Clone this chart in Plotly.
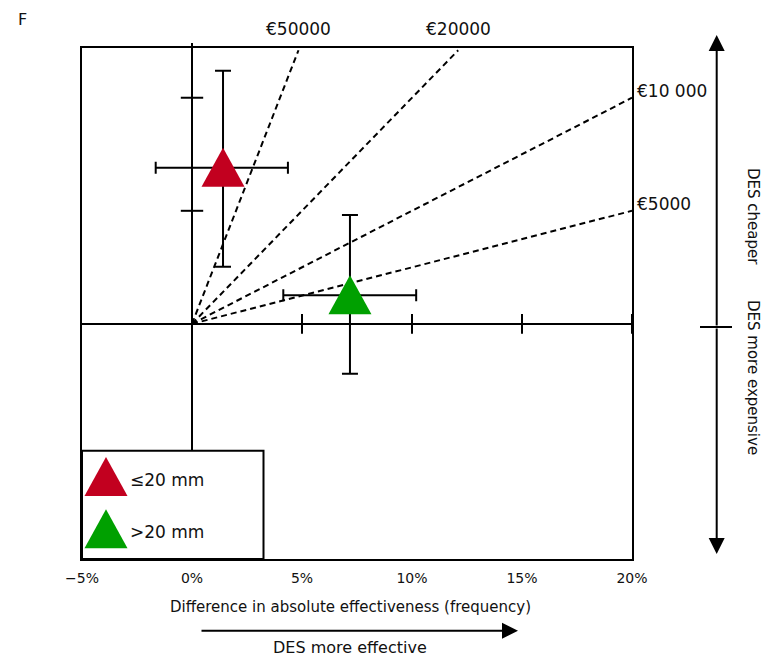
import plotly.graph_objects as go

# ---------------- data ----------------
groups = ['≤20 mm', '>20 mm']
group_colors = ['#C2001F', '#00A000']
eff = [1.41, 7.18]          # difference in effectiveness (%)
eff_lo = [-1.65, 4.15]
eff_hi = [4.36, 10.19]
cost = [1381, 252]          # difference in cost (EUR)
cost_lo = [506, -442]
cost_hi = [2238, 963]

wtp = [50000, 20000, 10000, 5000]
wtp_labels = ['€50000', '€20000', '€10 000', '€5000']

x_tick_vals = [-5, 0, 5, 10, 15, 20]
x_tick_text = ['−5%', '0%', '5%', '10%', '15%', '20%']
x_axis_ticks = [5, 10, 15, 20]
y_axis_ticks = [1000, 2000]

X_RANGE = [-5, 20]
Y_RANGE = [-2080, 2440]
Y_LINE_TOP = 2420

# ---------------- layout geometry ----------------
W, H = 763, 656
L, R, T, B = 82, 131, 48, 97
PW, PH = W - L - R, H - T - B


def px(xp):
    return (xp - L) / PW


def py(yp):
    return (H - B - yp) / PH


FONT = 'DejaVu Sans, Liberation Sans, Arial, sans-serif'
TXT = '#111111'

fig = go.Figure()

# error bars
for i, g in enumerate(groups):
    fig.add_trace(go.Scatter(
        x=[eff[i]], y=[cost[i]], mode='markers',
        marker=dict(size=2, color='black'),
        error_x=dict(type='data', symmetric=False,
                     array=[eff_hi[i] - eff[i]], arrayminus=[eff[i] - eff_lo[i]],
                     color='black', thickness=2, width=6),
        error_y=dict(type='data', symmetric=False,
                     array=[cost_hi[i] - cost[i]], arrayminus=[cost[i] - cost_lo[i]],
                     color='black', thickness=2, width=8),
        name=g, hoverinfo='skip'))

# willingness-to-pay lines
for lam, lab in zip(wtp, wtp_labels):
    x_end = min(X_RANGE[1], Y_LINE_TOP * 100 / lam)
    y_end = lam * x_end / 100
    fig.add_trace(go.Scatter(
        x=[0, x_end], y=[0, y_end], mode='lines',
        line=dict(color='black', width=2, dash='6px,4px'),
        hoverinfo='skip'))
    if x_end < X_RANGE[1]:
        fig.add_annotation(x=x_end, y=py(29), xref='x', yref='paper',
                           text=lab, showarrow=False, xanchor='center', yanchor='middle',
                           font=dict(family=FONT, size=17, color=TXT))
    else:
        fig.add_annotation(x=x_end, y=y_end, xref='x', yref='y',
                           text=lab, showarrow=False, xanchor='left', yanchor='middle',
                           xshift=3, yshift=7,
                           font=dict(family=FONT, size=17, color=TXT))

# axis tick marks on the zero lines
fig.add_trace(go.Scatter(x=x_axis_ticks, y=[0] * len(x_axis_ticks), mode='markers',
                         marker=dict(symbol='line-ns', size=14,
                                     line=dict(width=2, color='black')),
                         hoverinfo='skip'))
fig.add_trace(go.Scatter(x=[0] * len(y_axis_ticks), y=y_axis_ticks, mode='markers',
                         marker=dict(symbol='line-ew', size=16,
                                     line=dict(width=2, color='black')),
                         hoverinfo='skip'))

shapes = []
TRI = 'M -21.5,-19 L 21.5,-19 L 0,20 Z'
# data triangles
for i in range(len(groups)):
    shapes.append(dict(type='path', xref='x', yref='y',
                       xsizemode='pixel', ysizemode='pixel',
                       xanchor=eff[i], yanchor=cost[i], path=TRI,
                       fillcolor=group_colors[i], line=dict(width=0), layer='above'))

# vertical zero line slightly above the frame
shapes.append(dict(type='line', xref='x', yref='paper', x0=0, x1=0,
                   y0=1, y1=py(43), line=dict(color='black', width=2)))

# legend box
shapes.append(dict(type='rect', xref='paper', yref='paper',
                   x0=0, x1=px(263.5), y0=0, y1=py(450.7),
                   fillcolor='white', line=dict(color='black', width=2), layer='above'))
leg_y = [477, 529.3]
for i, g in enumerate(groups):
    shapes.append(dict(type='path', xref='paper', yref='paper',
                       xsizemode='pixel', ysizemode='pixel',
                       xanchor=px(106), yanchor=py(leg_y[i]), path=TRI,
                       fillcolor=group_colors[i], line=dict(width=0), layer='above'))
    fig.add_annotation(x=px(128), y=py(leg_y[i] + 3), xref='paper', yref='paper',
                       text=g, showarrow=False, xanchor='left', yanchor='middle',
                       font=dict(family=FONT, size=17, color=TXT))

# right-side tick
shapes.append(dict(type='line', xref='paper', yref='paper',
                   x0=px(700), x1=px(732), y0=py(327), y1=py(327),
                   line=dict(color='black', width=2)))

fig.update_layout(shapes=shapes)

# right-side double arrow
fig.add_annotation(x=px(716.7), y=py(35), xref='paper', yref='paper',
                   ax=0, ay=292, axref='pixel', ayref='pixel', text='',
                   showarrow=True, arrowhead=2, arrowsize=1.6, arrowwidth=2,
                   arrowcolor='black')
fig.add_annotation(x=px(716.7), y=py(554), xref='paper', yref='paper',
                   ax=0, ay=-227, axref='pixel', ayref='pixel', text='',
                   showarrow=True, arrowhead=2, arrowsize=1.6, arrowwidth=2,
                   arrowcolor='black')
fig.add_annotation(x=px(753), y=py(216), xref='paper', yref='paper',
                   xanchor='center', yanchor='middle',
                   text='DES cheaper', textangle=90, showarrow=False,
                   font=dict(family=FONT, size=15, color=TXT))
fig.add_annotation(x=px(753), y=py(377), xref='paper', yref='paper',
                   xanchor='center', yanchor='middle',
                   text='DES more expensive', textangle=90, showarrow=False,
                   font=dict(family=FONT, size=15, color=TXT))

# x-axis title and arrow
fig.add_annotation(x=px(350), y=py(607), xref='paper', yref='paper',
                   xanchor='center', yanchor='middle',
                   text='Difference in absolute effectiveness (frequency)',
                   showarrow=False, font=dict(family=FONT, size=15, color=TXT))
fig.add_annotation(x=px(518), y=py(630.7), xref='paper', yref='paper',
                   ax=-318, ay=0, axref='pixel', ayref='pixel', text='',
                   showarrow=True, arrowhead=2, arrowsize=1.6, arrowwidth=2,
                   arrowcolor='black')
fig.add_annotation(x=px(350), y=py(647), xref='paper', yref='paper',
                   xanchor='center', yanchor='middle',
                   text='DES more effective', showarrow=False,
                   font=dict(family=FONT, size=16, color=TXT))

# panel label
fig.add_annotation(x=px(22), y=py(19), xref='paper', yref='paper',
                   xanchor='center', yanchor='middle',
                   text='F', showarrow=False,
                   font=dict(family=FONT, size=16, color=TXT))

fig.update_xaxes(range=X_RANGE, tickvals=x_tick_vals, ticktext=x_tick_text,
                 ticks='outside', ticklen=5, tickcolor='rgba(0,0,0,0)',
                 tickfont=dict(family=FONT, size=14, color=TXT),
                 showline=True, mirror=True, linecolor='black', linewidth=2,
                 zeroline=True, zerolinecolor='black', zerolinewidth=2,
                 showgrid=False, fixedrange=True)
fig.update_yaxes(range=Y_RANGE, showticklabels=False, ticks='',
                 showline=True, mirror=True, linecolor='black', linewidth=2,
                 zeroline=True, zerolinecolor='black', zerolinewidth=2,
                 showgrid=False, fixedrange=True)

fig.update_layout(width=W, height=H, margin=dict(l=L, r=R, t=T, b=B),
                  plot_bgcolor='white', paper_bgcolor='white',
                  showlegend=False)

fig.write_html('out.html')
